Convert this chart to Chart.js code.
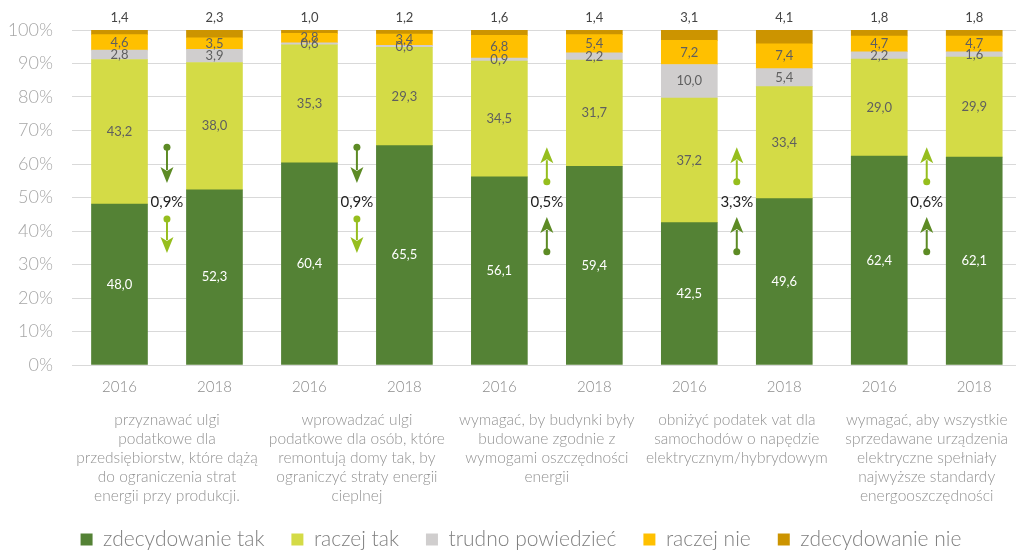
<!DOCTYPE html>
<html><head><meta charset="utf-8">
<script src="https://cdn.jsdelivr.net/npm/chart.js@4.4.1/dist/chart.umd.min.js"></script>
<style>html,body{margin:0;padding:0;background:#fff;}</style>
</head><body>
<canvas id="c" width="1016" height="550"></canvas>
<script>
const years = ['2016','2018','2016','2018','2016','2018','2016','2018','2016','2018'];
const categoryLabels = [
  ['przyznawać ulgi','podatkowe dla','przedsiębiorstw, które dążą','do ograniczenia strat','energii przy produkcji.'],
  ['wprowadzać ulgi','podatkowe dla osób, które','remontują domy tak, by','ograniczyć straty energii','cieplnej'],
  ['wymagać, by budynki były','budowane zgodnie z','wymogami oszczędności','energii'],
  ['obniżyć podatek vat dla','samochodów o napędzie','elektrycznym/hybrydowym'],
  ['wymagać, aby wszystkie','sprzedawane urządzenia','elektryczne spełniały','najwyższe standardy','energooszczędności']
];
const seriesNames = ['zdecydowanie tak','raczej tak','trudno powiedzieć','raczej nie','zdecydowanie nie'];
const zdecydowanieTak = [48.0,52.3,60.4,65.5,56.1,59.4,42.5,49.6,62.4,62.1];
const raczejTak       = [43.2,38.0,35.3,29.3,34.5,31.7,37.2,33.4,29.0,29.9];
const trudnoPowiedziec= [2.8,3.9,0.6,0.6,0.9,2.2,10.0,5.4,2.2,1.6];
const raczejNie       = [4.6,3.5,2.8,3.4,6.8,5.4,7.2,7.4,4.7,4.7];
const zdecydowanieNie = [1.4,2.3,1.0,1.2,1.6,1.4,3.1,4.1,1.8,1.8];
const changeLabels = ['0,9%','0,9%','0,5%','3,3%','0,6%'];
const changeDirections = ['down','down','up','up','up'];

const seriesValues = [zdecydowanieTak, raczejTak, trudnoPowiedziec, raczejNie, zdecydowanieNie];
const colors = ['#548235','#D4DB46','#D0CECE','#FFC000','#CC9400'];
const labelColors = ['#ffffff','#5f5f5f','#5f5f5f','#5f5f5f','#454545'];
const totals = years.map((_, i) => seriesValues.reduce((s, arr) => s + arr[i], 0));

const fmt = v => v.toFixed(1).replace('.', ',');

const datasets = seriesValues.map((arr, di) => ({
  label: seriesNames[di],
  data: arr.map((v, i) => ({x: i, y: v / totals[i] * 100})),
  backgroundColor: colors[di],
  borderWidth: 0,
  barThickness: 56,
  xAxisID: 'x',
  yAxisID: 'y'
}));

const labelPlugin = {
  id: 'segLabels',
  afterDatasetsDraw(chart) {
    const ctx = chart.ctx;
    chart.data.datasets.forEach((ds, di) => {
      const meta = chart.getDatasetMeta(di);
      meta.data.forEach((bar, i) => {
        const txt = fmt(seriesValues[di][i]);
        ctx.save();
        ctx.font = '13px Lato';
        ctx.textAlign = 'center';
        ctx.textBaseline = 'middle';
        ctx.fillStyle = labelColors[di];
        if (di === 4) ctx.fillText(txt, bar.x, bar.y - 12);
        else ctx.fillText(txt, bar.x, (bar.y + bar.base) / 2);
        ctx.restore();
      });
    });
  }
};

function drawArrow(ctx, x, yFrom, yTo, color) {
  const dir = Math.sign(yTo - yFrom);
  const headLen = 16, headW = 6.5;
  ctx.save();
  ctx.strokeStyle = color; ctx.fillStyle = color; ctx.lineWidth = 2;
  ctx.beginPath(); ctx.arc(x, yFrom, 3.5, 0, Math.PI * 2); ctx.fill();
  ctx.beginPath(); ctx.moveTo(x, yFrom); ctx.lineTo(x, yTo - dir * headLen + dir * 3); ctx.stroke();
  ctx.beginPath();
  ctx.moveTo(x, yTo);
  ctx.lineTo(x - headW, yTo - dir * headLen);
  ctx.lineTo(x, yTo - dir * (headLen - 4));
  ctx.lineTo(x + headW, yTo - dir * headLen);
  ctx.closePath(); ctx.fill();
  ctx.restore();
}

const arrowPlugin = {
  id: 'arrows',
  afterDatasetsDraw(chart) {
    const ctx = chart.ctx, xs = chart.scales.x, ys = chart.scales.y;
    const dark = '#5D8B25', light = '#96BE1E';
    changeLabels.forEach((lbl, g) => {
      const x = xs.getPixelForValue(g * 2 + 0.5);
      if (changeDirections[g] === 'down') {
        drawArrow(ctx, x, ys.getPixelForValue(65), ys.getPixelForValue(54.3), dark);
        drawArrow(ctx, x, ys.getPixelForValue(43.6), ys.getPixelForValue(33.4), light);
      } else {
        drawArrow(ctx, x, ys.getPixelForValue(54.7), ys.getPixelForValue(65), light);
        drawArrow(ctx, x, ys.getPixelForValue(33.8), ys.getPixelForValue(44.2), dark);
      }
      ctx.save();
      ctx.font = '15px Lato';
      ctx.fillStyle = '#1e1e1e';
      ctx.textAlign = 'center'; ctx.textBaseline = 'middle';
      ctx.fillText(lbl, x, ys.getPixelForValue(48.5));
      ctx.restore();
    });
  }
};

const layoutTweak = {
  id: 'layoutTweak',
  afterLayout(chart) {
    if (chart.legend) { chart.legend.left += 13; chart.legend.right += 13; }
    const x2 = chart.scales.x2;
    if (x2) x2.bottom = chart.height;
  }
};

const noPad = s => { s.paddingLeft = 0; s.paddingRight = 0; };

new Chart(document.getElementById('c'), {
  type: 'bar',
  data: { datasets },
  options: {
    responsive: false,
    animation: false,
    devicePixelRatio: 1,
    layout: { padding: { top: 30, left: 0, right: 0, bottom: -10 } },
    plugins: {
      tooltip: { enabled: false },
      legend: {
        position: 'bottom',
        labels: {
          boxWidth: 12, boxHeight: 12, padding: 27,
          color: '#7f7f7f',
          font: { family: 'Lato', size: 21, weight: 300 }
        }
      }
    },
    scales: {
      x: {
        type: 'linear', stacked: true, offset: false, min: -0.5, max: 9.44, weight: 0,
        grid: { display: false, drawTicks: false }, border: { display: false },
        afterBuildTicks: s => { s.ticks = years.map((_, i) => ({ value: i })); },
        afterFit: s => { s.height = 35; noPad(s); },
        ticks: {
          autoSkip: false, maxRotation: 0, minRotation: 0, padding: 13,
          color: '#8c8c8c', font: { family: 'Lato', size: 15, weight: 300 },
          callback: (v, i) => years[i]
        }
      },
      x2: {
        type: 'linear', position: 'bottom', offset: false, min: -0.5, max: 9.44, weight: 1,
        grid: { display: false, drawTicks: false }, border: { display: false },
        afterBuildTicks: s => { s.ticks = categoryLabels.map((_, g) => ({ value: g * 2 + 0.5 })); },
        afterFit: s => { s.height = 102; noPad(s); },
        ticks: {
          autoSkip: false, maxRotation: 0, minRotation: 0, padding: 10,
          color: '#939393', font: { family: 'Lato', size: 15.5, lineHeight: 1.24, weight: 300 },
          callback: (v, i) => categoryLabels[i]
        }
      },
      y: {
        stacked: true, min: 0, max: 100,
        grid: { color: '#d9d9d9', drawTicks: false },
        border: { display: false },
        afterFit: s => { s.width = 72; },
        ticks: {
          stepSize: 10, padding: 19,
          color: '#a6a6a6', font: { family: 'Lato', size: 18, weight: 300 },
          callback: v => v + '%'
        }
      }
    }
  },
  plugins: [labelPlugin, arrowPlugin, layoutTweak]
});
</script>
</body></html>
